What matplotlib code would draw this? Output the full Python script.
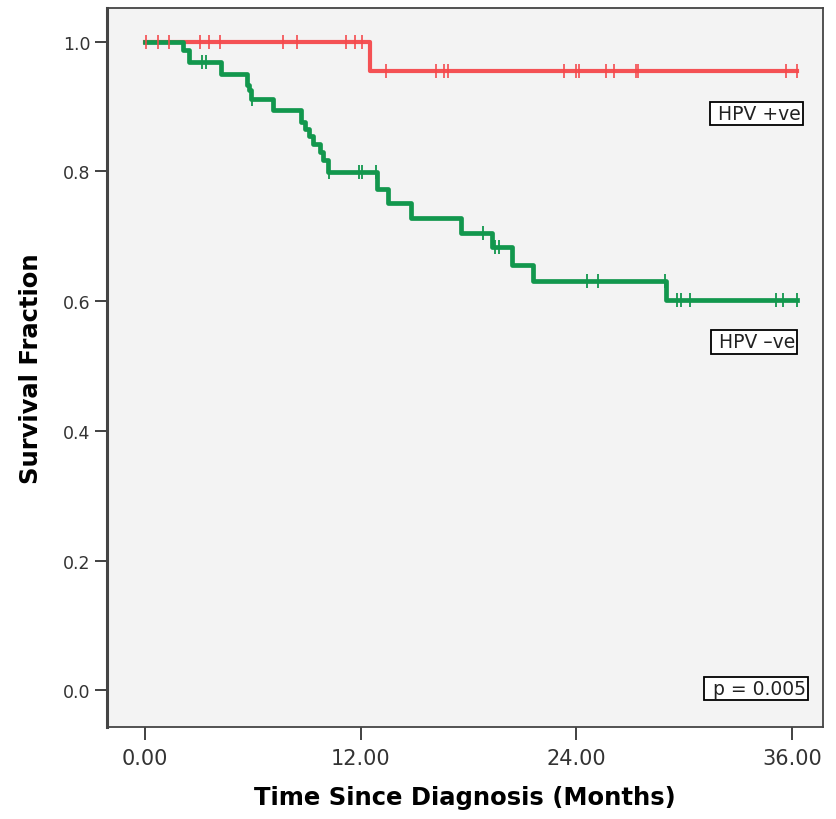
"""
KM survival curves, HPV +ve vs HPV -ve
"""
import numpy as np
import matplotlib.pyplot as plt

# step points (time in months, survival after the drop)
red_event_t = [12.5]
red_event_s = [0.955]
red_cens = [0.05, 0.72, 1.33, 3.06, 3.6, 4.17, 7.67, 8.44, 11.2, 11.7, 12.1,
            13.44, 16.17, 16.67, 16.89, 23.33, 24.0, 24.17, 25.67, 26.11,
            27.33, 27.44, 35.67, 36.28]
red_end = 36.3

green_event_t = [2.13, 2.46, 4.26, 5.7, 5.8, 5.9, 7.13, 8.7, 8.9, 9.13, 9.35,
                 9.72, 9.9, 10.2, 12.94, 13.5, 14.8, 17.6, 19.3, 20.4, 21.6, 29.0]
green_event_s = [0.987, 0.969, 0.950, 0.934, 0.926, 0.912, 0.895, 0.876, 0.866,
                 0.855, 0.843, 0.830, 0.817, 0.799, 0.773, 0.752, 0.728, 0.705,
                 0.683, 0.656, 0.631, 0.602]
green_cens = [3.2, 3.4, 5.95, 10.25, 11.9, 12.1, 12.85, 18.8, 19.5, 19.7, 24.6,
              25.2, 28.95, 29.6, 29.8, 30.3, 35.1, 35.5, 36.3]
green_end = 36.3

xticks = [0, 12, 24, 36]
xticklabels = ['0.00', '12.00', '24.00', '36.00']
yticks = [0.0, 0.2, 0.4, 0.6, 0.8, 1.0]

red = '#f5484b'
green = '#12974d'
narrow = ['Liberation Sans Narrow', 'DejaVu Sans']


def steps(ev_t, ev_s, end):
    t = np.array([0.0] + list(ev_t) + [end])
    s = np.array([1.0] + list(ev_s) + [ev_s[-1]])
    return t, s


def surv_at(ev_t, ev_s, times):
    idx = np.searchsorted(np.array(ev_t), np.array(times), side='right')
    s = np.array([1.0] + list(ev_s))
    return s[idx]


fig = plt.figure(figsize=(8.36, 8.2), dpi=100)
ax = fig.add_axes([0.128, 0.112, 0.856, 0.877])
ax.set_facecolor('#f3f3f3')

t, s = steps(red_event_t, red_event_s, red_end)
ax.step(t, s, where='post', color=red, lw=3.0, alpha=0.95, zorder=3)
ax.plot(red_cens, surv_at(red_event_t, red_event_s, red_cens), ls='none',
        marker='|', ms=10, mew=1.3, color=red, alpha=0.9, zorder=4)

t, s = steps(green_event_t, green_event_s, green_end)
ax.step(t, s, where='post', color=green, lw=3.4, zorder=3)
ax.plot(green_cens, surv_at(green_event_t, green_event_s, green_cens), ls='none',
        marker='|', ms=10, mew=1.3, color=green, zorder=4)

box = dict(boxstyle='square,pad=0.12', fc='white', ec='black', lw=1.3)
ax.text(31.55, 0.889, ' HPV +ve', fontsize=13.5, va='center', ha='left', bbox=box,
        color='#222222', family=narrow, zorder=5)
ax.text(31.6, 0.537, ' HPV \u2013ve', fontsize=13.5, va='center', ha='left', bbox=box,
        color='#222222', family=narrow, zorder=5)
ax.text(31.25, 0.003, ' p = 0.005', fontsize=13.5, va='center', ha='left', bbox=box,
        color='#222222', family=narrow, zorder=5)

ax.set_xlim(-2.1, 37.7)
ax.set_ylim(-0.057, 1.052)
ax.set_xticks(xticks)
ax.set_xticklabels(xticklabels, family=narrow, fontsize=15)
ax.set_yticks(yticks)
ax.set_yticklabels(['%.1f' % v for v in yticks], fontsize=12.5, color='#222222')
ax.tick_params(axis='x', length=9, width=1.3, pad=6, colors='#333333')
ax.tick_params(axis='y', length=9, width=1.3, pad=3, colors='#333333')

for side in ['left', 'right', 'top', 'bottom']:
    ax.spines[side].set_color('#444444')
    ax.spines[side].set_linewidth(1.3)
ax.spines['left'].set_linewidth(2.2)

ax.set_xlabel('Time Since Diagnosis (Months)', fontsize=17.5, fontweight='bold',
              family=narrow, labelpad=12)
ax.set_ylabel('Survival Fraction', fontsize=17.5, fontweight='bold',
              family=narrow, labelpad=14)

plt.savefig('out.png', dpi=100)
